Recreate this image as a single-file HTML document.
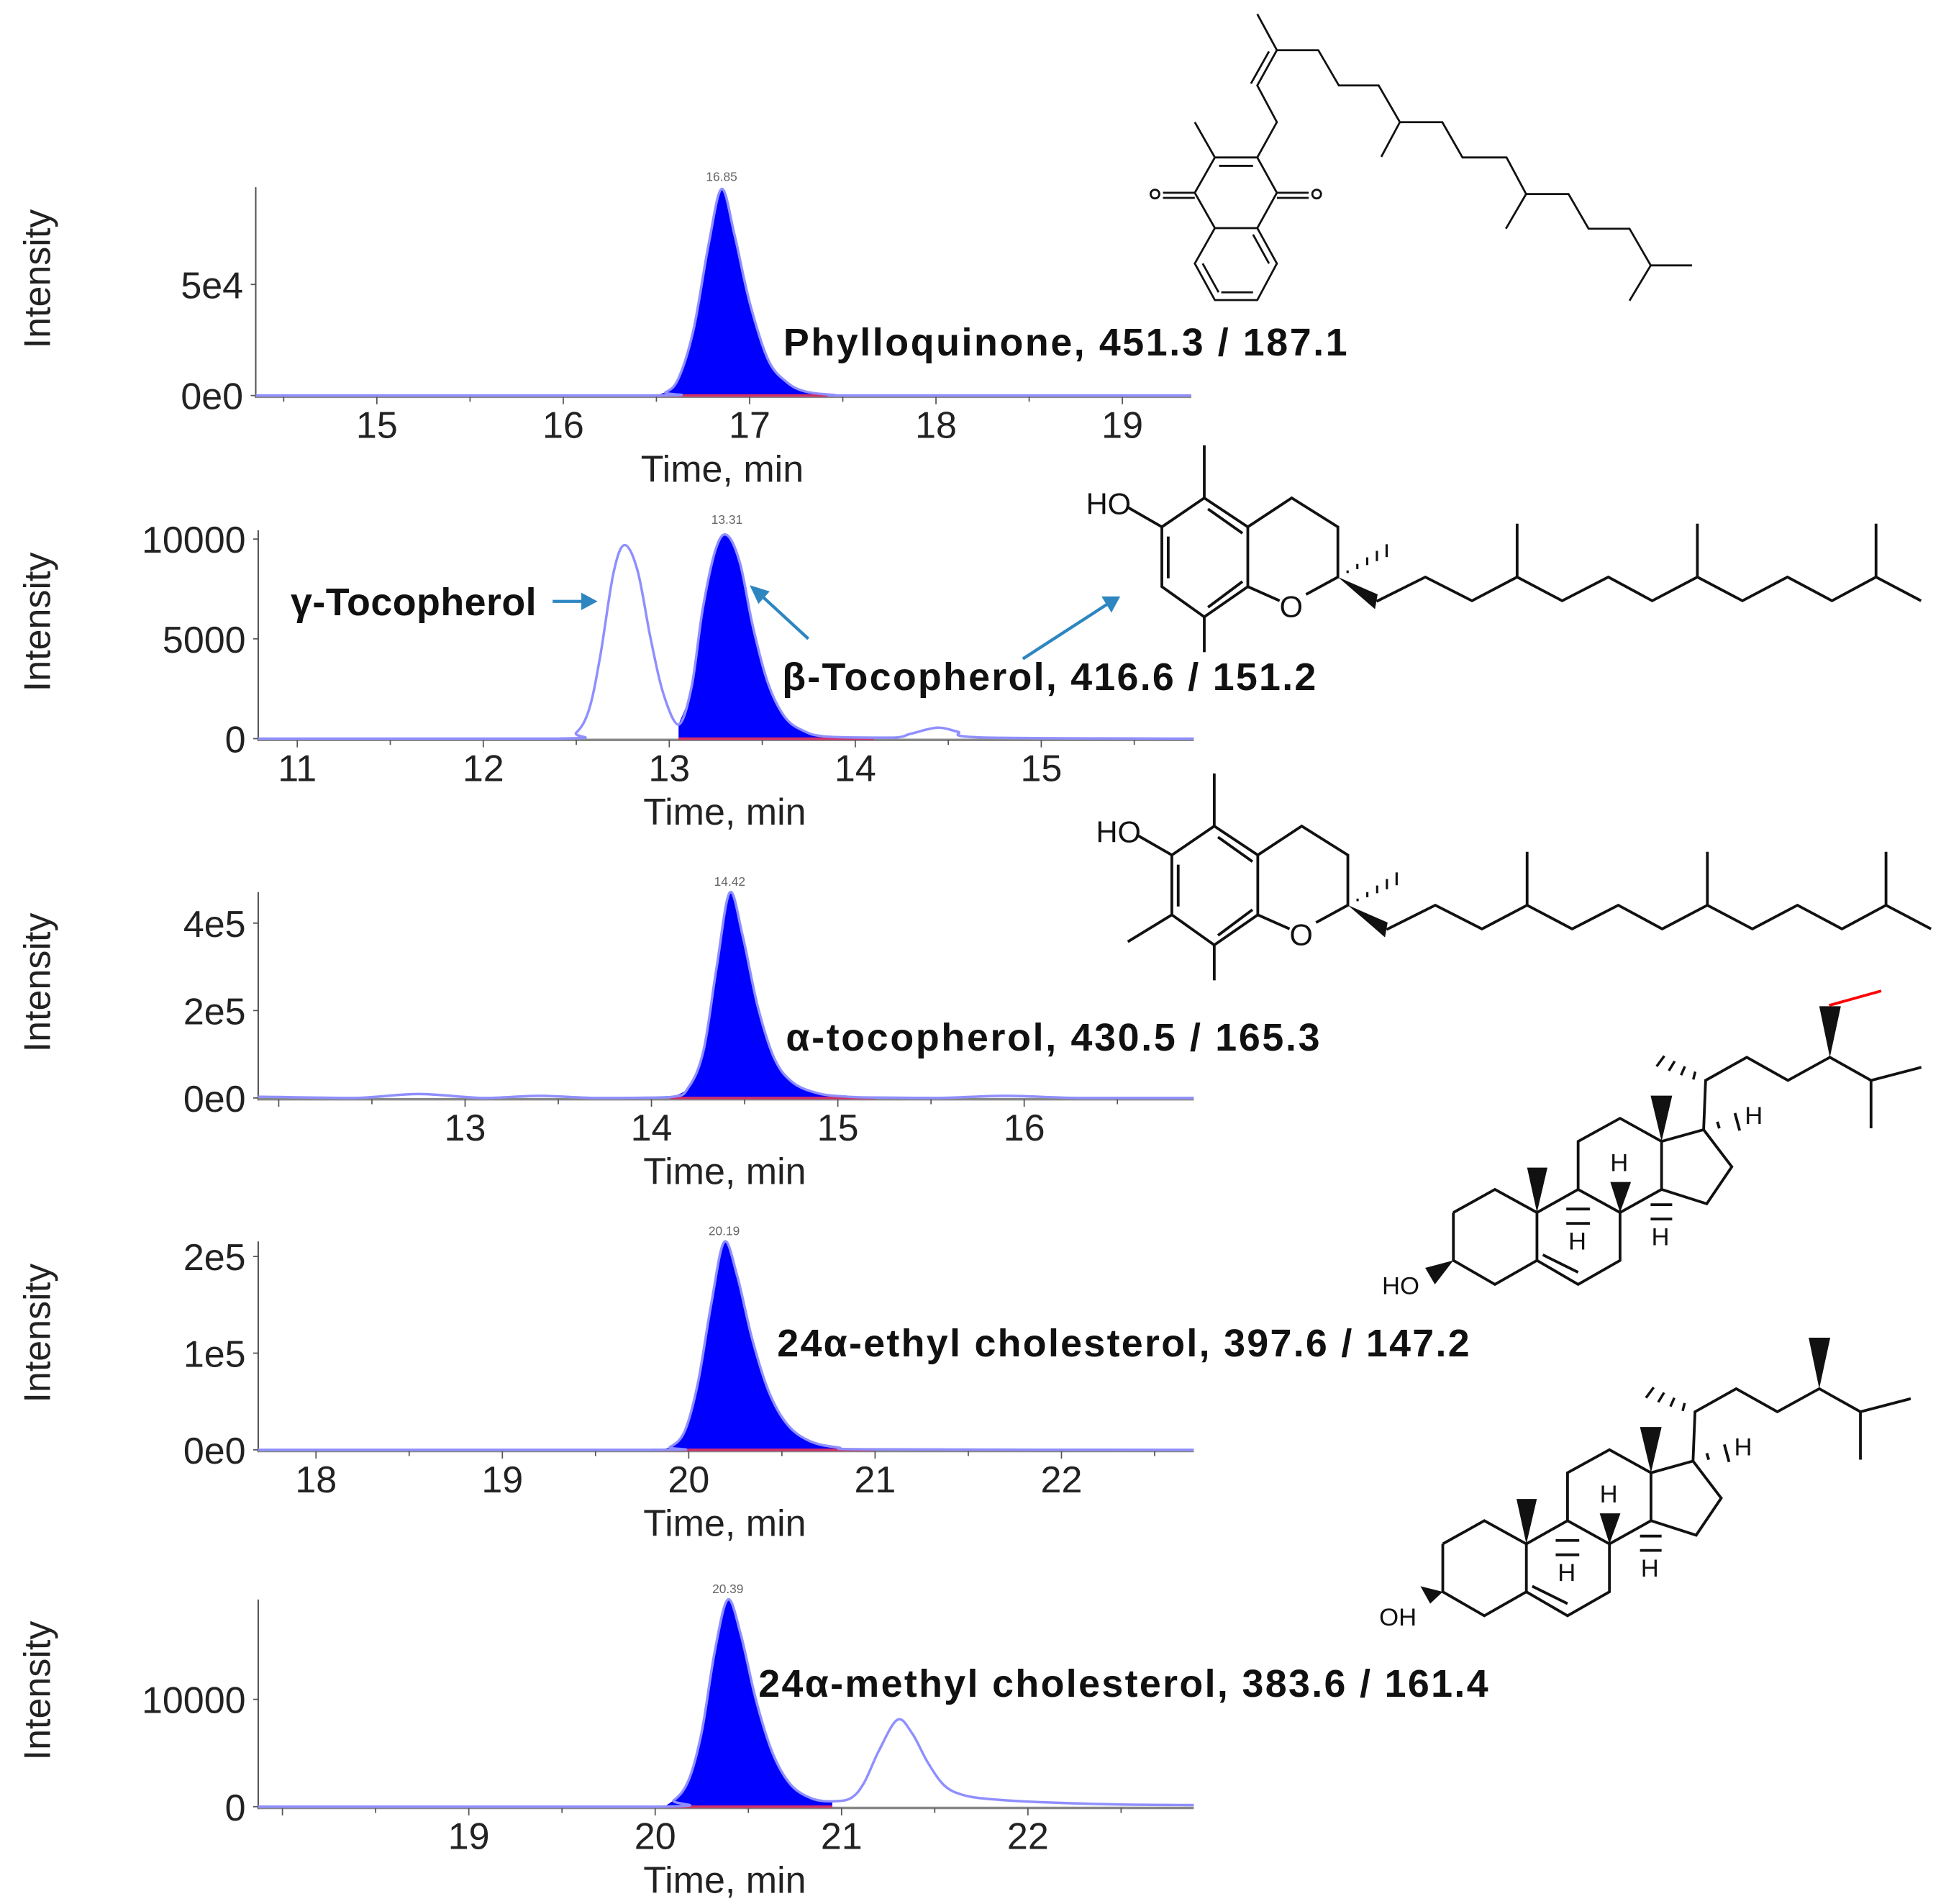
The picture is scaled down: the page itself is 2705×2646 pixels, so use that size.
<!DOCTYPE html>
<html><head><meta charset="utf-8"><style>
html,body{margin:0;padding:0;background:#fff}
svg{display:block}
text{font-family:"Liberation Sans",sans-serif}
.lbl{font-family:"Liberation Sans",sans-serif;font-weight:bold;font-size:31px;fill:#111}
</style></head><body>
<svg id="fig" xmlns="http://www.w3.org/2000/svg" width="2705" height="2646" viewBox="0 0 1560 1526" preserveAspectRatio="none">
<g id="charts"></g>
<g id="mols" stroke="#111" fill="none" stroke-width="1.6"></g>
<g>
<text class="lbl" x="628" y="285" textLength="452">Phylloquinone,  451.3 / 187.1</text>
<text class="lbl" x="233" y="493" textLength="197">γ-Tocopherol</text>
<text class="lbl" x="627" y="553" textLength="428">β-Tocopherol, 416.6 / 151.2</text>
<text class="lbl" x="630" y="842" textLength="428">α-tocopherol, 430.5 / 165.3</text>
<text class="lbl" x="623" y="1087" textLength="555">24α-ethyl cholesterol, 397.6 / 147.2</text>
<text class="lbl" x="608" y="1360" textLength="585">24α-methyl cholesterol, 383.6 / 161.4</text>
<g stroke="#2e86c1" stroke-width="2.5" fill="#2e86c1">
<line x1="443" y1="482" x2="468" y2="482"/>
<polygon points="479,482 466,475 466,489" stroke="none"/>
<line x1="648" y1="512" x2="610" y2="477"/>
<polygon points="601,469 617,474 608,484" stroke="none"/>
<line x1="820" y1="528" x2="888" y2="484"/>
<polygon points="898,478 883,478 891,491" stroke="none"/>
</g>
</g>
</svg>
<script>
// ---- chart data ----
const p1Times=[14.35,16.45,16.55,16.62,16.7,16.78,16.85,16.92,17.0,17.1,17.2,17.3,17.45,17.6,19.37];
const p1Values=[0,0,1500,8000,30000,68000,93000,72000,42000,16000,6000,1800,300,0,0];
const p2Times=[10.79,12.4,12.5,12.57,12.63,12.7,12.76,12.83,12.9,12.97,13.05,13.12,13.18,13.25,13.31,13.38,13.45,13.53,13.62,13.72,13.85,14.2,14.3,14.44,14.55,14.68,15.82];
const p2Values=[0,0,300,1500,4200,8300,9700,8400,5000,2200,700,2600,6500,9500,10200,8800,5600,2800,1100,400,100,50,250,550,350,60,0];
const p3Times=[11.89,12.4,12.75,13.1,13.4,13.7,14.1,14.2,14.28,14.35,14.42,14.49,14.57,14.66,14.76,14.9,15.05,15.2,15.55,15.9,16.3,16.91];
const p3Values=[3000,0,9000,0,5000,0,2000,25000,110000,300000,470000,370000,210000,90000,35000,10000,3000,1000,0,5000,0,0];
const p4Times=[17.69,19.8,19.9,19.98,20.05,20.12,20.19,20.26,20.34,20.43,20.53,20.65,20.8,21.0,22.71];
const p4Values=[0,0,3000,20000,70000,150000,215000,180000,115000,60000,26000,9000,2500,500,0];
const p5Times=[17.87,20.0,20.1,20.18,20.25,20.32,20.39,20.46,20.54,20.63,20.73,20.85,20.95,21.05,21.12,21.2,21.3,21.38,21.46,21.55,21.65,21.8,22.1,22.5,22.89];
const p5Values=[0,0,600,2500,7000,14500,19300,16000,10000,5000,2000,700,500,800,2200,5200,8100,6800,4200,2000,1100,700,400,200,150];
const p1XTicks=[15,16,17,18,19];
const p2XTicks=[11,12,13,14,15];
const p3XTicks=[13,14,15,16];
const p4XTicks=[18,19,20,21,22];
const p5XTicks=[19,20,21,22];
const p1YTicks=[0,50000]; const p1YLabels=["0e0","5e4"];
const p2YTicks=[0,5000,10000]; const p2YLabels=["0","5000","10000"];
const p3YTicks=[0,200000,400000]; const p3YLabels=["0e0","2e5","4e5"];
const p4YTicks=[0,100000,200000]; const p4YLabels=["0e0","1e5","2e5"];
const p5YTicks=[0,10000]; const p5YLabels=["0","10000"];
const peakLabels=["16.85","13.31","14.42","20.19","20.39"];
const peakTimes=[16.85,13.31,14.42,20.19,20.39];
const fillRanges=[[16.5,17.45],[13.05,14.1],[14.1,15.2],[19.8,21.0],[20.05,20.95]];

const NS="http://www.w3.org/2000/svg";
function mk(tag,attrs,parent){const e=document.createElementNS(NS,tag);for(const k in attrs)e.setAttribute(k,attrs[k]);parent.appendChild(e);return e;}
const panels=[
 {t:p1Times,v:p1Values,xt:p1XTicks,yt:p1YTicks,yl:p1YLabels,left:205,right:955,base:317,top:150,dom:[14.35,19.37],ymax:93800},
 {t:p2Times,v:p2Values,xt:p2XTicks,yt:p2YTicks,yl:p2YLabels,left:207,right:957,base:592,top:425,dom:[10.79,15.82],ymax:10440},
 {t:p3Times,v:p3Values,xt:p3XTicks,yt:p3YTicks,yl:p3YLabels,left:207,right:957,base:880,top:715,dom:[11.89,16.91],ymax:471000},
 {t:p4Times,v:p4Values,xt:p4XTicks,yt:p4YTicks,yl:p4YLabels,left:207,right:957,base:1162,top:995,dom:[17.69,22.71],ymax:215500},
 {t:p5Times,v:p5Values,xt:p5XTicks,yt:p5YTicks,yl:p5YLabels,left:207,right:957,base:1448,top:1282,dom:[17.87,22.89],ymax:19300}
];
function smooth(pts){let d="M"+pts[0][0].toFixed(2)+","+pts[0][1].toFixed(2);
 for(let i=0;i<pts.length-1;i++){const p0=pts[Math.max(0,i-1)],p1=pts[i],p2=pts[i+1],p3=pts[Math.min(pts.length-1,i+2)];
  let c1y=p1[1]+(p2[1]-p0[1])/6,c2y=p2[1]-(p3[1]-p1[1])/6;
  const lo=Math.max(p1[1],p2[1]);c1y=Math.min(c1y,lo+0);c2y=Math.min(c2y,lo+0);
  d+=" C"+(p1[0]+(p2[0]-p0[0])/6).toFixed(2)+","+c1y.toFixed(2)+" "+(p2[0]-(p3[0]-p1[0])/6).toFixed(2)+","+c2y.toFixed(2)+" "+p2[0].toFixed(2)+","+p2[1].toFixed(2);}
 return d;}
const charts=document.getElementById('charts');
panels.forEach((P,i)=>{
 const g=mk('g',{},charts);
 
 
 const X=t=>P.left+(t-P.dom[0])/(P.dom[1]-P.dom[0])*(P.right-P.left);
 const Y=v=>P.base-v/P.ymax*(P.base-P.top);
 // y axis
 const ya=mk('line',{x1:P.left,y1:P.top,x2:P.left,y2:P.base+2,stroke:'#555','stroke-width':1.2},g);
 
 
 const xa=mk('line',{x1:P.left,y1:P.base+1,x2:P.right,y2:P.base+1,stroke:'#888','stroke-width':2},g);
 
 
 P.yt.forEach((v,k)=>{
  const tl=mk('text',{x:P.left-10,y:Y(v)+11,'text-anchor':'end','font-size':30,fill:'#222'},g);tl.textContent=P.yl[k];
  
  
  mk('line',{x1:P.left-4,y1:Y(v),x2:P.left,y2:Y(v),stroke:'#555'},g);
 });
 for(let t=Math.ceil(P.dom[0]*2)/2;t<=P.dom[1];t+=0.5){mk('line',{x1:X(t),y1:P.base+1,x2:X(t),y2:P.base+(t%1===0?7:5),stroke:'#555','stroke-width':1},g);}
 P.xt.forEach(t=>{
  const tl=mk('text',{x:X(t),y:P.base+34,'text-anchor':'middle','font-size':30,fill:'#222'},g);tl.textContent=t;
  
  
 });
 const xt=mk('text',{x:(i==0?579:581),y:P.base+69,'text-anchor':'middle','font-size':30,fill:'#222'},g);xt.textContent='Time, min';
 
 
 const cy=(P.top+P.base)/2+P.base>0?(P.top+P.base)/2-10:0;
 const yt=mk('text',{x:0,y:0,transform:'translate(40,'+cy+') rotate(-90)','text-anchor':'middle','font-size':30,fill:'#222'},g);yt.textContent='Intensity';
 
 
 // fill
 const fr=fillRanges[i];
 const fp=[];P.t.forEach((t,k)=>{if(t>=fr[0]-1e-9&&t<=fr[1]+1e-9)fp.push([X(t),Y(P.v[k])]);});
 const fd=smooth(fp)+" L"+X(fr[1]).toFixed(2)+","+P.base+" L"+X(fr[0]).toFixed(2)+","+P.base+" Z";
 const fa=mk('path',{d:fd,fill:'#0000ff',stroke:'none'},g);
 
 
 const rl=mk('line',{x1:X(fr[0]),y1:P.base,x2:X(fr[1]),y2:P.base,stroke:'#d0306a','stroke-width':2},g);
 
 
 const pts=P.t.map((t,k)=>[X(t),Y(P.v[k])]);
 const tr=mk('path',{d:smooth(pts),fill:'none',stroke:'#8f8fff','stroke-width':2},g);
 
 
 const pl=mk('text',{x:X(peakTimes[i]),y:P.top-5,'text-anchor':'middle','font-size':10,fill:'#666'},g);pl.textContent=peakLabels[i];
 
 
});

// ---- structures (drawing only) ----
const mols=document.getElementById('mols');
function poly(pts,tf,name,extra){const s=pts.map(p=>{const q=tf(p);return q[0].toFixed(1)+","+q[1].toFixed(1)}).join(" ");
 const e=mk('polyline',Object.assign({points:s},extra||{}),mols);
 
 return e;}
function txt(p,tf,s,name,size){const q=tf(p);const e=mk('text',{x:q[0],y:q[1],'font-size':size||22,fill:'#111',stroke:'none'},mols);e.textContent=s;
 
 return e;}
const tA=p=>[894+p[0]*0.425,p[1]*0.515];
// phylloquinone
poly([[268,22],[305,78],[383,78],[422,133],[497,133],[537,190],[617,190],[655,245],[738,245],[775,302],[855,302],[893,356],[970,356],[1010,413],[1088,413]],tA,'phylloquinone-chain');
poly([[537,190],[502,244]],tA,'methyl');poly([[775,302],[737,356]],tA,'methyl');poly([[1010,413],[970,468]],tA,'methyl');
poly([[305,78],[268,133],[305,190],[268,245]],tA,'prenyl-link');poly([[290,80],[256,130]],tA,'double-bond');
poly([[268,245],[188,245],[150,300],[188,355],[268,355],[305,300],[268,245]],tA,'quinone-ring');
poly([[188,245],[150,190]],tA,'methyl');poly([[196,258],[260,258]],tA,'double-bond');
poly([[150,300],[90,300]],tA,'carbonyl');poly([[150,308],[90,308]],tA,'carbonyl');poly([[305,300],[365,300]],tA,'carbonyl');poly([[305,308],[365,308]],tA,'carbonyl');
mk('circle',{cx:tA([75,300])[0],cy:tA([75,302])[1],r:3.5},mols);mk('circle',{cx:tA([380,300])[0],cy:tA([380,302])[1],r:3.5},mols);
poly([[188,355],[150,410],[188,467],[268,467],[305,410],[268,355]],tA,'benzene-ring');
poly([[165,410],[195,455]],tA,'double-bond');poly([[200,455],[260,455]],tA,'double-bond');poly([[290,410],[260,365]],tA,'double-bond');
// tocopherols
function toco(dx,dy,alpha,prefix){
 const tf=p=>[894+p[0]*0.425+dx,p[1]*0.515+dy];
 const w={'stroke-width':2.2};
 poly([[88,820],[168,775],[250,820],[250,913],[168,960],[88,913],[88,820]],tf,prefix+'-aromatic-ring',w);
 poly([[100,835],[100,900]],tf,'double-bond',w);poly([[175,792],[240,830]],tf,'double-bond',w);poly([[175,945],[240,905]],tf,'double-bond',w);
 poly([[168,775],[168,693]],tf,'methyl',w);poly([[168,960],[168,1015]],tf,'methyl',w);
 poly([[88,820],[25,790]],tf,'hydroxyl',w);txt([-55,800],tf,'HO','hydroxyl-label',24);
 if(alpha)poly([[88,913],[5,955]],tf,'methyl',w);
 poly([[250,913],[310,935]],tf,'ring-bond',w);poly([[360,925],[420,898],[420,820],[333,775],[250,820]],tf,prefix+'-pyran-ring',w);
 txt([310,960],tf,'O','oxygen',24);
 for(let k=1;k<=5;k++){const f=k/5;poly([[420+92*f,898-43*f-8*f],[420+92*f,898-43*f+12*f]],tf,'hash',{'stroke-width':1.8});}
 const a=tf([420,898]),b=tf([495,925]),c=tf([490,948]);mk('polygon',{points:a+" "+b+" "+c,fill:'#111',stroke:'none'},mols);
 poly([[493,936],[585,898],[673,935],[758,898],[843,935],[930,898],[1013,935],[1098,898],[1183,935],[1268,898],[1352,935],[1435,898],[1520,935]],tf,prefix+'-phytyl-chain',w);
 poly([[758,898],[758,815]],tf,'methyl',w);poly([[1098,898],[1098,815]],tf,'methyl',w);poly([[1435,898],[1435,815]],tf,'methyl',w);
}
toco(0,0,false,'beta-tocopherol');toco(8,263,true,'alpha-tocopherol');
// sterols
function sterol(dx,dy,red,prefix){
 const tf=p=>[1067+p[0]*0.3144+dx,778.5+p[1]*0.3495+dy];
 const w={'stroke-width':2.2};
 poly([[312,553],[418,500],[525,553],[525,663],[418,718],[312,663],[312,553]],tf,prefix+'-ring-a',w);
 poly([[525,553],[630,500],[737,553],[737,663],[630,718],[525,663]],tf,prefix+'-ring-b',w);
 poly([[540,650],[630,690]],tf,'double-bond',w);
 poly([[630,500],[630,390],[737,337],[843,390],[843,500],[737,553]],tf,prefix+'-ring-c',w);
 poly([[843,390],[950,363],[1022,448],[958,533],[843,500]],tf,prefix+'-ring-d',w);
 poly([[950,363],[955,250],[1060,197],[1165,250],[1272,197],[1377,250],[1505,220]],tf,prefix+'-side-chain',w);
 poly([[1377,250],[1377,360]],tf,'methyl',w);
 const wedge=(a,b1,b2,n)=>{const pts=[tf(a),tf(b1),tf(b2)].map(q=>q[0].toFixed(1)+","+q[1].toFixed(1)).join(" ");const e=mk('polygon',{points:pts,fill:'#111',stroke:'none'},mols);};
 wedge([525,553],[500,450],[552,450],'wedge');wedge([843,390],[815,285],[870,285],'wedge');wedge([737,553],[712,483],[765,483],'wedge');wedge([1272,197],[1245,80],[1300,80],'wedge');
 if(red)wedge([312,663],[240,680],[265,718],'wedge');else wedge([312,663],[255,650],[280,690],'wedge');
 for(let k=1;k<=4;k++){const f=k/4;poly([[955-115*f-10*f,250-40*f+8],[955-115*f+10*f,250-40*f-8-8*f]],tf,'hash',{'stroke-width':2});}
 poly([[600,545],[660,545]],tf,'hash',w);poly([[600,578],[660,578]],tf,'hash',w);poly([[815,535],[870,535]],tf,'hash',w);poly([[815,568],[870,568]],tf,'hash',w);
 poly([[985,345],[990,360]],tf,'hash',w);poly([[1030,325],[1042,365]],tf,'hash',w);
 txt([712,458],tf,'H','hydrogen',20);txt([605,638],tf,'H','hydrogen',20);txt([817,628],tf,'H','hydrogen',20);txt([1055,350],tf,'H','hydrogen',20);
 if(red){const e=poly([[1270,78],[1403,45]],tf,'ethyl-highlight',{stroke:'#ff0000','stroke-width':2.2});txt([130,740],tf,'HO','hydroxyl-label',20);}
 else txt([150,740],tf,'OH','hydroxyl-label',20);
}
sterol(0,0,true,'ethyl-cholesterol');sterol(-8.5,265.6,false,'methyl-cholesterol');
</script>
</body></html>
